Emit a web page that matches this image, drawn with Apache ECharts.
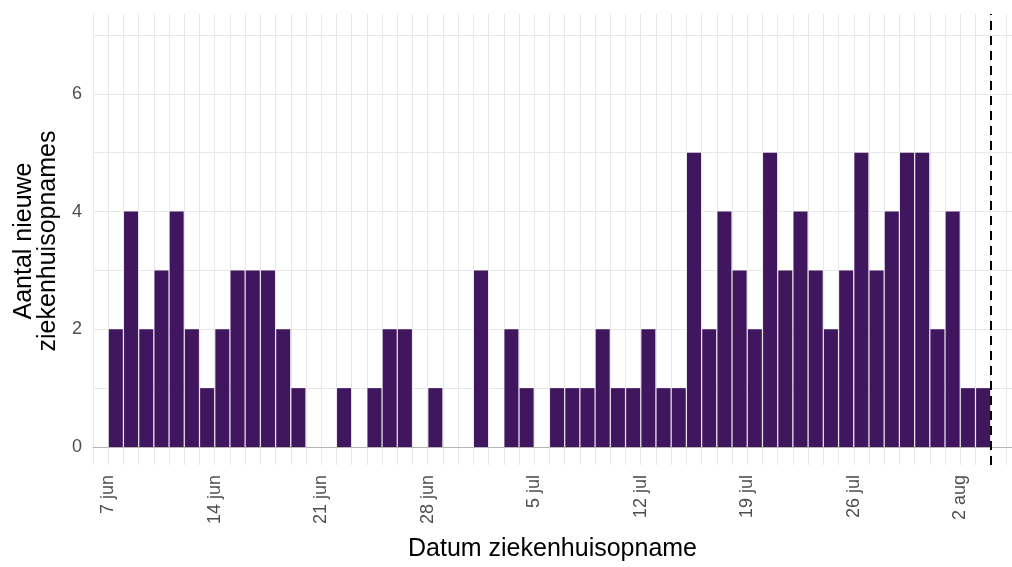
<!DOCTYPE html>
<html><head><meta charset="utf-8">
<script src="https://cdn.jsdelivr.net/npm/echarts@6/dist/echarts.min.js"></script>
<style>html,body{margin:0;padding:0;background:#fff}#c{width:1012px;height:567px}</style>
</head><body><div id="c"></div>
<script>
// Daily new hospital admissions, one value per day starting 7 jun
const startLabel = '7 jun';
const admissions = [2,4,2,3,4,2,1,2,3,3,3,2,1,0,0,1,0,1,2,2,0,1,0,0,3,0,2,1,0,1,1,1,2,1,1,2,1,1,5,2,4,3,2,5,3,4,3,2,3,5,3,4,5,5,2,4,1,1];
const xTickLabels = ['7 jun','14 jun','21 jun','28 jun','5 jul','12 jul','19 jul','26 jul','2 aug'];
const xTickStep = 7;          // days between labelled ticks
const cutoffDay = 58;         // dashed line (4 aug)
const yTickLabels = [0,2,4,6];

const FONT = 'Liberation Sans, Arial, Helvetica, sans-serif';
const X_MIN = -1, X_MAX = 59.4;
const barData = admissions.map((v, i) => [i + 0.5, v]);

const chart = echarts.init(document.getElementById('c'), null, {renderer: 'canvas'});
chart.setOption({
  animation: false,
  backgroundColor: '#ffffff',
  textStyle: {fontFamily: FONT},
  grid: [
    {left: 93, right: 0, top: 35, bottom: 120},
    {left: 93, right: 0, top: 14, bottom: 99}
  ],
  xAxis: [
    {gridIndex: 0, type: 'value', min: X_MIN, max: X_MAX,
     axisLine: {show: true, onZero: true, lineStyle: {color: '#b5b5b5', width: 1}},
     axisTick: {show: false}, axisLabel: {show: false}, splitLine: {show: false}},
    {gridIndex: 1, type: 'value', min: X_MIN, max: X_MAX, interval: 1,
     axisLine: {show: false}, axisTick: {show: false},
     splitLine: {show: true, lineStyle: {color: '#e8e8e8', width: 1}},
     axisLabel: {
       rotate: 90, margin: 10, fontSize: 18, color: '#4d4d4d', fontFamily: FONT,
       padding: [0, 0, 10, 0],
       formatter: v => (v >= 0 && v % xTickStep === 0 && xTickLabels[v / xTickStep]) ? xTickLabels[v / xTickStep] : ''
     },
     name: 'Datum ziekenhuisopname', nameLocation: 'middle', nameGap: 72,
     nameTextStyle: {fontSize: 25, color: '#000', fontFamily: FONT}},
  ],
  yAxis: [
    {gridIndex: 0, type: 'value', min: 0, max: 7, interval: 1,
     axisLine: {show: false}, axisTick: {show: false},
     splitLine: {show: true, lineStyle: {color: '#e8e8e8', width: 1}},
     axisLabel: {margin: 11, fontSize: 18, color: '#4d4d4d', fontFamily: FONT,
       formatter: v => yTickLabels.includes(v) ? String(v) : ''},
     name: 'Aantal nieuwe\nziekenhuisopnames', nameLocation: 'middle', nameRotate: 90, nameGap: 29,
     nameTextStyle: {fontSize: 25, lineHeight: 24, color: '#000', fontFamily: FONT}},
    {gridIndex: 1, type: 'value', min: 0, max: 1, show: false}
  ],
  series: [
    {type: 'bar', xAxisIndex: 0, yAxisIndex: 0, data: barData, barWidth: 14,
     itemStyle: {color: '#40165e'}, z: 2},
    {type: 'line', xAxisIndex: 1, yAxisIndex: 1, data: [[cutoffDay, 0]], showSymbol: false,
     lineStyle: {opacity: 0}, z: 5,
     markLine: {silent: true, symbol: 'none', label: {show: false},
       lineStyle: {color: '#000', type: [9, 6], width: 2},
       data: [{xAxis: cutoffDay}]}}
  ]
});
</script></body></html>
